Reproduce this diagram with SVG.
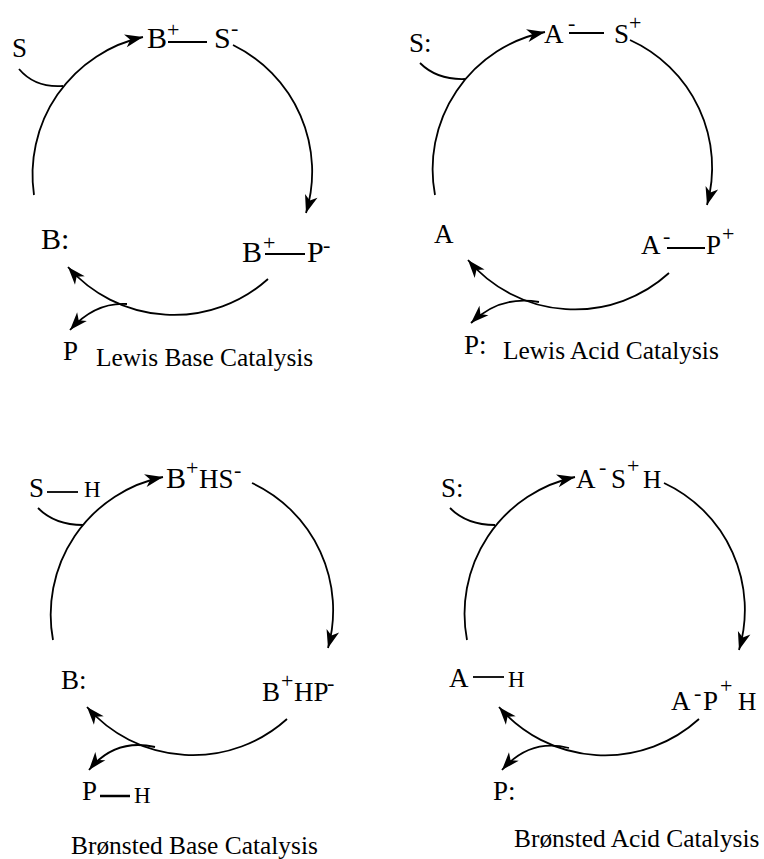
<svg xmlns="http://www.w3.org/2000/svg" width="764" height="859" viewBox="0 0 764 859">
<defs>
<marker id="ah" markerWidth="19" markerHeight="14" viewBox="-19 -7 19 14" refX="0" refY="0" orient="auto" markerUnits="userSpaceOnUse">
<path d="M0,0 L-18,-6.5 L-13,0 L-18,6.5 z" fill="#000"/>
</marker>
</defs>
<style>
text{font-family:"Liberation Serif","Times New Roman",serif;fill:#000}
.l{font-size:30px}
.m{font-size:27px}
.s{font-size:23px}
.sup{font-size:22px}
.cap{font-size:25.4px}
.c{fill:none;stroke:#000;stroke-width:1.8}
.a{marker-end:url(#ah)}
.b{stroke:#000;stroke-width:1.8}
</style>
<rect width="764" height="859" fill="#fff"/>
<g id="connectors">
<path class="c a" d="M34,195 A141,141 0 0 1 143,37"/>
<path class="c a" d="M233,45 A141,141 0 0 1 306,213"/>
<path class="c a" d="M268,279 A141,141 0 0 1 68,267"/>
<path class="c a" d="M127,304 Q95,302 70,330"/>
<path class="c" d="M19,69 Q35,88 63,86"/>
<path class="c a" d="M435,195 A140,140 0 0 1 545,32"/>
<path class="c a" d="M630,40 A140,140 0 0 1 707,205"/>
<path class="c a" d="M669,273 A140,140 0 0 1 468,260"/>
<path class="c a" d="M539,302 Q500,295 471,323"/>
<path class="c" d="M420,63 Q437,80 465,79"/>
<path class="c a" d="M53,640 A140.5,140.5 0 0 1 163,477"/>
<path class="c a" d="M252,483 A140.5,140.5 0 0 1 328,648"/>
<path class="c a" d="M287,719 A140.5,140.5 0 0 1 87,707"/>
<path class="c a" d="M155,747 Q115,738 89,770"/>
<path class="c" d="M38,508 Q55,525 83,525"/>
<path class="c a" d="M467,640 A140,140 0 0 1 575,477"/>
<path class="c a" d="M664,483 A140,140 0 0 1 739,650"/>
<path class="c a" d="M699,719 A140,140 0 0 1 499,707"/>
<path class="c a" d="M569,748 Q530,738 502,770"/>
<path class="c" d="M450,508 Q467,525 495,525"/>
</g>
<g id="lb-s"><text class="m" x="12" y="57">S</text></g>
<g id="lb-bs"><text class="l" x="147" y="48">B</text><text class="sup" x="167" y="37">+</text><line class="b" x1="168" y1="42" x2="207" y2="42"/><text class="l" x="214" y="48">S</text><text class="sup" x="231" y="35">-</text></g>
<g id="lb-b"><text class="l" x="41" y="249">B:</text></g>
<g id="lb-bp"><text class="l" x="242" y="262">B</text><text class="sup" x="263" y="250">+</text><line class="b" x1="265" y1="254" x2="305" y2="254"/><text class="l" x="307" y="262">P</text><text class="sup" x="323" y="252">-</text></g>
<g id="lb-p"><text class="m" x="63" y="360">P</text></g>
<g id="lb-title"><text class="cap" x="96" y="366">Lewis Base Catalysis</text></g>
<g id="la-s"><text class="m" x="409" y="52">S:</text></g>
<g id="la-as"><text class="m" x="544" y="43">A</text><text class="sup" x="568" y="30">-</text><line class="b" x1="569" y1="33" x2="604" y2="33"/><text class="m" x="614" y="43">S</text><text class="sup" x="629" y="30">+</text></g>
<g id="la-a"><text class="m" x="434" y="243">A</text></g>
<g id="la-ap"><text class="m" x="641" y="254">A</text><text class="sup" x="663" y="243">-</text><line class="b" x1="667" y1="248" x2="705" y2="248"/><text class="m" x="706" y="254">P</text><text class="sup" x="722" y="241">+</text></g>
<g id="la-p"><text class="m" x="464" y="354">P:</text></g>
<g id="la-title"><text class="cap" x="503" y="359">Lewis Acid Catalysis</text></g>
<g id="bb-sh"><text class="m" x="29" y="497">S</text><line class="b" x1="47" y1="492" x2="78" y2="492"/><text class="s" x="84" y="497">H</text></g>
<g id="bb-bhs"><text class="l" x="166" y="488">B</text><text class="sup" x="186" y="475">+</text><text class="m" x="199" y="488">HS</text><text class="sup" x="234" y="477">-</text></g>
<g id="bb-b"><text class="m" x="61" y="689">B:</text></g>
<g id="bb-bhp"><text class="m" x="262" y="701">B</text><text class="sup" x="281" y="688">+</text><text class="m" x="294" y="701">HP</text><text class="sup" x="327" y="690">-</text></g>
<g id="bb-ph"><text class="m" x="82" y="800">P</text><line x1="100" y1="796" x2="130" y2="796" stroke="#000" stroke-width="2.5"/><text class="s" x="134" y="803">H</text></g>
<g id="bb-title"><text class="cap" x="71" y="854">Brønsted Base Catalysis</text></g>
<g id="ba-s"><text class="m" x="441" y="497">S:</text></g>
<g id="ba-ash"><text class="m" x="576" y="488">A</text><text class="sup" x="599" y="474">-</text><text class="m" x="611" y="488">S</text><text class="sup" x="627" y="473">+</text><text class="cap" x="643" y="488">H</text></g>
<g id="ba-ah"><text class="m" x="449" y="687">A</text><line class="b" x1="473" y1="677" x2="504" y2="677"/><text class="s" x="508" y="687">H</text></g>
<g id="ba-aph"><text class="m" x="671" y="710">A</text><text class="sup" x="694" y="700">-</text><text class="m" x="703" y="710">P</text><text class="sup" x="720" y="693">+</text><text class="cap" x="738" y="710">H</text></g>
<g id="ba-p"><text class="m" x="493" y="800">P:</text></g>
<g id="ba-title"><text class="cap" x="514" y="847">Brønsted Acid Catalysis</text></g>
</svg>
